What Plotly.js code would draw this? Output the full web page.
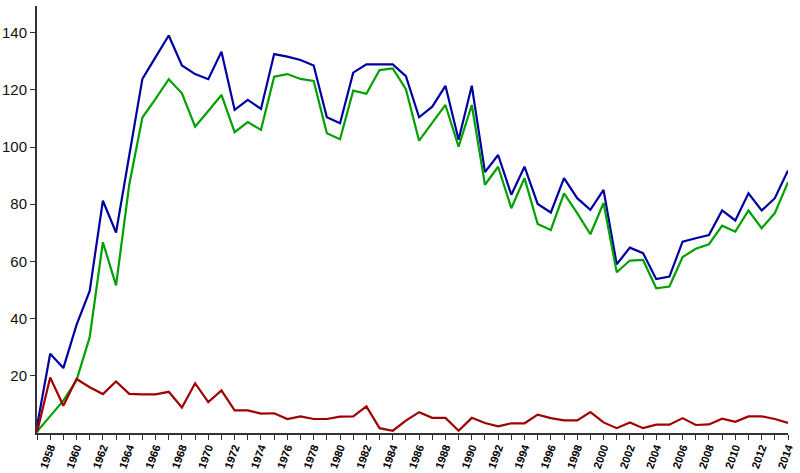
<!DOCTYPE html>
<html>
<head>
<meta charset="utf-8">
<script src="https://cdn.plot.ly/plotly-3.0.1.min.js"></script>
<style>html,body{margin:0;padding:0;background:#fff;}#chart{width:800px;height:473px;}</style>
</head>
<body>
<div id="chart"></div>
<script>
const years = [1957,1958,1959,1960,1961,1962,1963,1964,1965,1966,1967,1968,1969,1970,1971,1972,1973,1974,1975,1976,1977,1978,1979,1980,1981,1982,1983,1984,1985,1986,1987,1988,1989,1990,1991,1992,1993,1994,1995,1996,1997,1998,1999,2000,2001,2002,2003,2004,2005,2006,2007,2008,2009,2010,2011,2012,2013,2014];

const totalSeries = [2.3,27.7,22.7,37.8,49.7,81.2,70.1,96.7,123.8,131.4,139,128.5,125.5,123.7,133.3,113,116.5,113.3,
  132.5,131.6,130.4,128.5,110.4,108.3,126,128.9,128.9,128.9,124.8,110.4,114.1,121.4,102.5,121.4,91.2,97.2,83.3,93.1,
  80.1,77.1,89.1,82.1,78,85,59,64.8,62.9,53.8,54.7,66.9,68.1,69.2,77.8,74.3,83.8,77.8,82.1,91.8];

const greenSeries = [0.5,5.8,11.3,18.4,33.5,66.7,51.6,86.8,110.3,116.8,123.7,118.8,107.1,112.6,118.2,105.2,108.7,106,
  124.6,125.5,123.8,123.1,104.8,102.7,119.7,118.6,126.9,127.5,120.2,102.2,108.3,114.7,100.1,114.7,86.8,93.1,78.6,89.1,
  73.1,71,83.8,76.9,69.5,80.4,56.2,60.3,60.5,50.6,51.2,61.5,64.4,66,72.5,70.4,77.8,71.6,76.9,87.7];

const redSeries = [0.2,19.4,9.5,18.9,16,13.6,18,13.7,13.5,13.5,14.4,8.9,17.4,10.8,14.9,7.9,7.9,6.8,
  6.9,4.9,5.8,4.9,4.9,5.7,5.8,9.3,1.7,0.8,4.3,7.3,5.3,5.3,0.8,5.3,3.5,2.3,3.4,3.4,
  6.4,5.2,4.4,4.4,7.3,3.7,1.7,3.7,1.7,2.9,2.9,5.2,2.8,3,5,3.9,5.8,5.8,4.9,3.5];

const yTicks = [20,40,60,80,100,120,140];

const lineW = 2.2;
const traces = [
  {x: years, y: totalSeries, type: 'scatter', mode: 'lines', line: {color: '#0000a0', width: lineW}, hoverinfo: 'x+y'},
  {x: years, y: greenSeries, type: 'scatter', mode: 'lines', line: {color: '#00a000', width: lineW}, hoverinfo: 'x+y'},
  {x: years, y: redSeries, type: 'scatter', mode: 'lines', line: {color: '#a00000', width: lineW}, hoverinfo: 'x+y'}
];

const layout = {
  width: 800, height: 473,
  margin: {l: 37, r: 12, t: 6, b: 40, pad: 0},
  paper_bgcolor: '#fff', plot_bgcolor: '#fff',
  showlegend: false,
  font: {family: 'Liberation Sans, Arial, sans-serif', color: '#000'},
  xaxis: {
    range: [1957, 2014],
    showgrid: false, zeroline: false,
    showline: true, linecolor: '#333', linewidth: 2,
    tickmode: 'linear', tick0: 1958, dtick: 2,
    ticks: 'outside', ticklen: 5, tickwidth: 1, tickcolor: '#333',
    minor: {tickmode: 'linear', tick0: 1957, dtick: 1, ticks: 'outside', ticklen: 5, tickwidth: 1, tickcolor: '#333', showgrid: false},
    tickangle: -70,
    ticklabelstandoff: -3,
    tickfont: {family: 'Liberation Sans, Arial, sans-serif', size: 11, color: '#000', weight: 'bold'},
    fixedrange: true
  },
  yaxis: {
    range: [0, 149.3],
    showgrid: false, zeroline: false,
    showline: true, linecolor: '#333', linewidth: 2,
    tickmode: 'array', tickvals: yTicks, ticktext: yTicks.map(String),
    ticks: 'outside', ticklen: 5, tickwidth: 1, tickcolor: '#333',
    tickfont: {size: 15, color: '#111'},
    fixedrange: true
  }
};

Plotly.newPlot('chart', traces, layout, {displayModeBar: false, staticPlot: true});
</script>
</body>
</html>
